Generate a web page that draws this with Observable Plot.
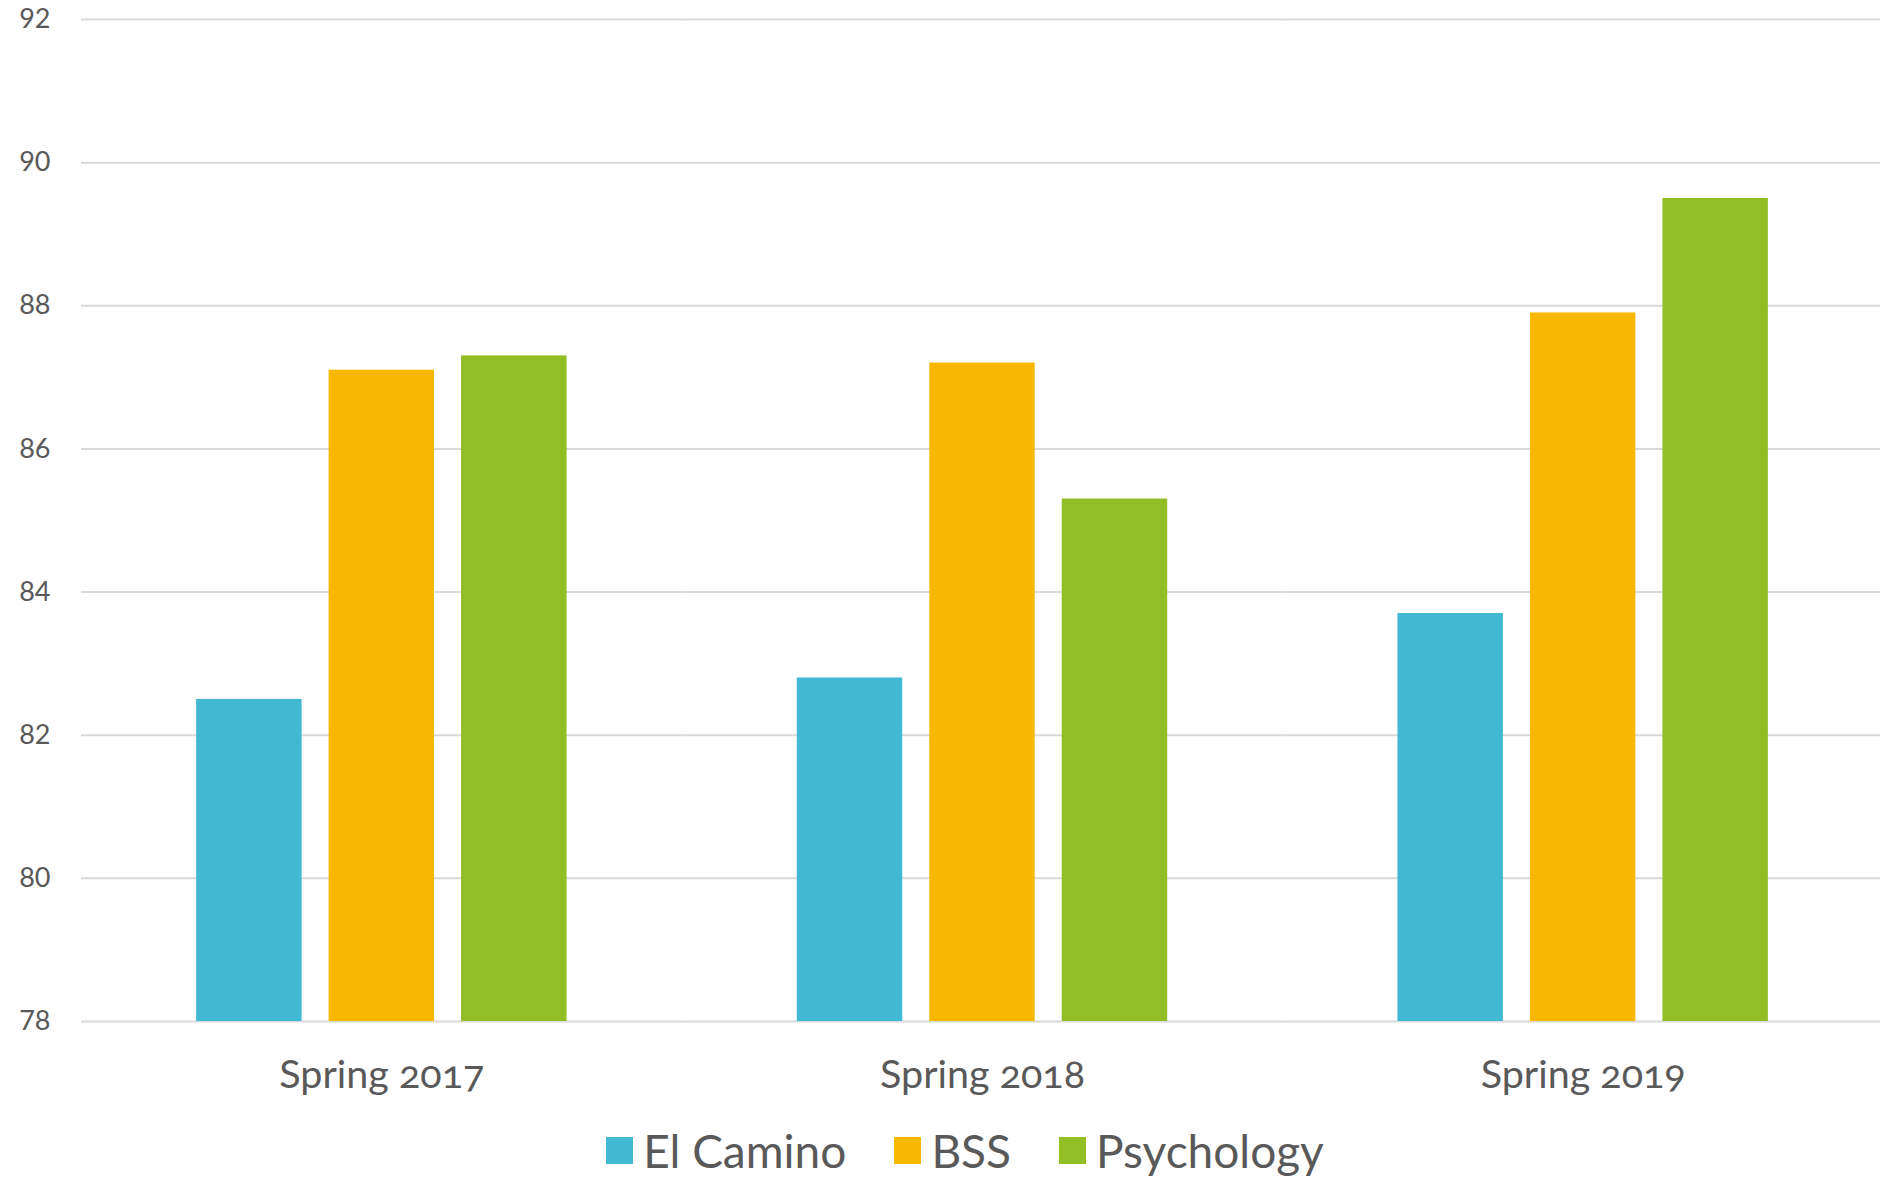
<!DOCTYPE html>
<html>
<head>
<meta charset="utf-8">
<script src="https://cdn.jsdelivr.net/npm/d3@7"></script>
<script src="https://cdn.jsdelivr.net/npm/@observablehq/plot@0.6"></script>
<style>
  html, body { margin: 0; padding: 0; background: #fff; }
  body { width: 1880px; height: 1179px; overflow: hidden; font-family: Lato, "Open Sans", sans-serif; }
  #chart svg { display: block; font-variant-numeric: oldstyle-nums; max-width: none !important; }
  #legend { display: flex; justify-content: center; align-items: center; padding-left: 50px; height: 64px; margin-top: 9px; color: #595959; font-size: 46px; line-height: 1.15; font-family: Lato, sans-serif; }
  .item { display: flex; align-items: center; margin: 0 24px; }
  .sw { width: 27px; height: 27px; margin-right: 10px; }
</style>
</head>
<body>
<div id="chart"></div>
<div id="legend"></div>
<script>
const categories = ["Spring 2017", "Spring 2018", "Spring 2019"];
const series = ["El Camino", "BSS", "Psychology"];
const elCamino = [82.5, 82.8, 83.7];
const bss = [87.1, 87.2, 87.9];
const psychology = [87.3, 85.3, 89.5];
const colors = ["#41B9D3", "#F9B800", "#92BD24"];
const yTicks = [78, 80, 82, 84, 86, 88, 90, 92];
const yDomain = [78, 92];

const values = [elCamino, bss, psychology];
const data = [];
categories.forEach((c, i) => {
  series.forEach((s, j) => data.push({ cat: c, series: s, value: values[j][i] }));
});

const textColor = "#595959";

const chart = Plot.plot({
  width: 1883,
  height: 1110,
  marginTop: 19,
  marginLeft: 81,
  marginRight: 0,
  marginBottom: 89,
  style: { fontFamily: "Lato, sans-serif", color: textColor, background: "#fff", overflow: "visible" },
  fx: { domain: categories, padding: 0, label: null, round: false },
  x: { domain: series, paddingInner: 0.204, paddingOuter: 0.869, axis: null, round: false },
  y: { domain: yDomain, label: null },
  color: { domain: series, range: colors },
  marks: [
    Plot.gridY(yTicks, { stroke: "#d9d9d9", strokeOpacity: 1, strokeWidth: 2 }),
    Plot.barY(data, { fx: "cat", x: "series", y1: yDomain[0], y2: "value", fill: "series" }),
    Plot.axisY(yTicks, { tickSize: 0, tickPadding: 31, fontSize: 27, fill: textColor, label: null, tickFormat: "d" }),
    Plot.axisFx({ anchor: "bottom", tickSize: 0, tickPadding: 38, fontSize: 39.5, fill: textColor, label: null })
  ]
});
document.getElementById("chart").appendChild(chart);

const legend = document.getElementById("legend");
series.forEach((s, j) => {
  const item = document.createElement("div");
  item.className = "item";
  const sw = document.createElement("div");
  sw.className = "sw";
  sw.style.background = colors[j];
  const t = document.createElement("span");
  t.textContent = s;
  item.appendChild(sw);
  item.appendChild(t);
  legend.appendChild(item);
});
</script>
</body>
</html>
